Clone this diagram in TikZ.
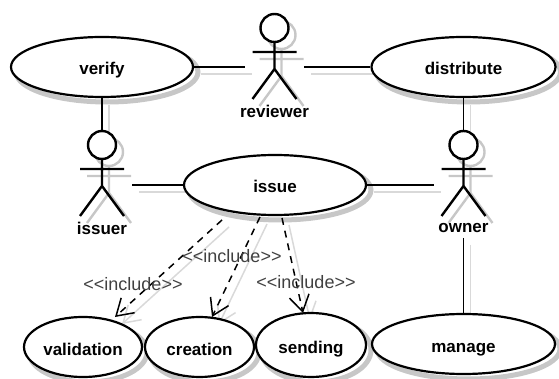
\documentclass[tikz,border=0pt]{standalone}
\usepackage{fontspec}
\setmainfont{Liberation Sans}
\usetikzlibrary{arrows.meta}
\usetikzlibrary{backgrounds}
\usetikzlibrary{shapes.geometric}

\definecolor{shadowgray}{gray}{0.78}

\tikzset{
  usecase/.style={ellipse, draw=black, line width=2.2pt, fill=white, inner sep=0pt,
    text height=16pt, text depth=0pt, font=\fontsize{17}{18}\selectfont\bfseries},
  caseshadow/.style={draw=shadowgray, line width=5pt, shift={(5,5)}},
  actorhead/.style={circle, draw=black, line width=2.4pt, fill=white, inner sep=0pt, minimum size=28pt},
  actorline/.style={draw=black, line width=2.4pt},
  actorshadow/.style={draw=shadowgray, line width=2.4pt, shift={(7,7)}},
  actorname/.style={font=\fontsize{17}{18}\selectfont\bfseries},
  assoc/.style={draw=black, line width=1.4pt},
  assocshadow/.style={draw=black!15, line width=1.5pt, transform canvas={shift={(7pt,-7pt)}}},
  incl/.style={draw=black, line width=1.5pt, dash pattern=on 7pt off 6pt,
    -{Straight Barb[length=16pt, width=20pt, line width=1.5pt]}},
  inclshadow/.style={assocshadow, -{Straight Barb[length=16pt, width=20pt, line width=1.5pt]}},
  incllabel/.style={text=black!75, font=\fontsize{18}{18}\selectfont},
}

\newcommand{\umlcase}[6]{%
  \node[usecase, minimum width=#4pt, minimum height=#5pt] (#1) at (#2,#3) {#6};
  \begin{scope}[on background layer]
    \draw[caseshadow] (#2,#3) ellipse [x radius=#4pt/2, y radius=#5pt/2];
  \end{scope}%
}

\newcommand{\umlactor}[4]{%
  \begin{scope}[shift={(#2,#3)}]
    \begin{scope}[on background layer]
      \draw[actorshadow] (0,0) circle (14pt);
      \draw[actorshadow] (-22,24) -- (22,24) (0,14) -- (0,41) (-22,71) -- (0,41) -- (22,71);
    \end{scope}
    \draw[actorline] (-22,24) -- (22,24) (0,14) -- (0,41) (-22,71) -- (0,41) -- (22,71);
    \node[actorhead] (#1) at (0,0) {};
    \node[actorname] (#1-name) at (0,83) {#4};
  \end{scope}%
}

\begin{document}
\begin{tikzpicture}[x=1pt, y=-1pt]
\useasboundingbox (0,0) rectangle (559,379);

\umlcase{verify}{102}{67}{182}{60}{verify}
\umlcase{distribute}{463.5}{67}{184}{60}{distribute}
\umlcase{issue}{275}{185}{182}{60}{issue}
\umlcase{validation}{83}{347}{118}{60}{validation}
\umlcase{creation}{199.5}{347}{109}{60}{creation}
\umlcase{sending}{311}{345}{110}{64}{sending}
\umlcase{manage}{463.5}{344}{183}{60}{manage}

\umlactor{reviewer}{274.5}{28}{reviewer}
\umlactor{issuer}{102}{145}{issuer}
\umlactor{owner}{463.5}{145}{owner}

\coordinate (reviewer-w) at (245,67);
\coordinate (reviewer-e) at (304,67);
\coordinate (issuer-e) at (132,185);
\coordinate (owner-w) at (434,185);
\coordinate (owner-s) at (463.5,238);
\coordinate (validation-from) at (222,220);
\coordinate (creation-from) at (260,217);
\coordinate (sending-from) at (282,218);
\coordinate (validation-to) at (115,317);
\coordinate (creation-to) at (212,317);
\coordinate (sending-to) at (303,313);

\begin{scope}[on background layer]
\draw[assocshadow] (verify.east) -- (reviewer-w);
\draw[assocshadow] (reviewer-e) -- (distribute.west);
\draw[assocshadow] (verify.south) -- (issuer.north);
\draw[assocshadow] (distribute.south) -- (owner.north);
\draw[assocshadow] (issuer-e) -- (issue.west);
\draw[assocshadow] (issue.east) -- (owner-w);
\draw[assocshadow] (owner-s) -- (manage.north);
\draw[inclshadow] (validation-from) -- (validation-to);
\draw[inclshadow] (creation-from) -- (creation-to);
\draw[inclshadow] (sending-from) -- (sending-to);
\end{scope}

\draw[assoc] (verify.east) -- (reviewer-w);
\draw[assoc] (reviewer-e) -- (distribute.west);
\draw[assoc] (verify.south) -- (issuer.north);
\draw[assoc] (distribute.south) -- (owner.north);
\draw[assoc] (issuer-e) -- (issue.west);
\draw[assoc] (issue.east) -- (owner-w);
\draw[assoc] (owner-s) -- (manage.north);

\draw[incl] (validation-from) -- (validation-to);
\draw[incl] (creation-from) -- (creation-to);
\draw[incl] (sending-from) -- (sending-to);

\node[incllabel] (include-validation) at (133,284) {<{}<include>{}>};
\node[incllabel] (include-creation) at (232,256) {<{}<include>{}>};
\node[incllabel] (include-sending) at (306,282) {<{}<include>{}>};

\end{tikzpicture}
\end{document}
